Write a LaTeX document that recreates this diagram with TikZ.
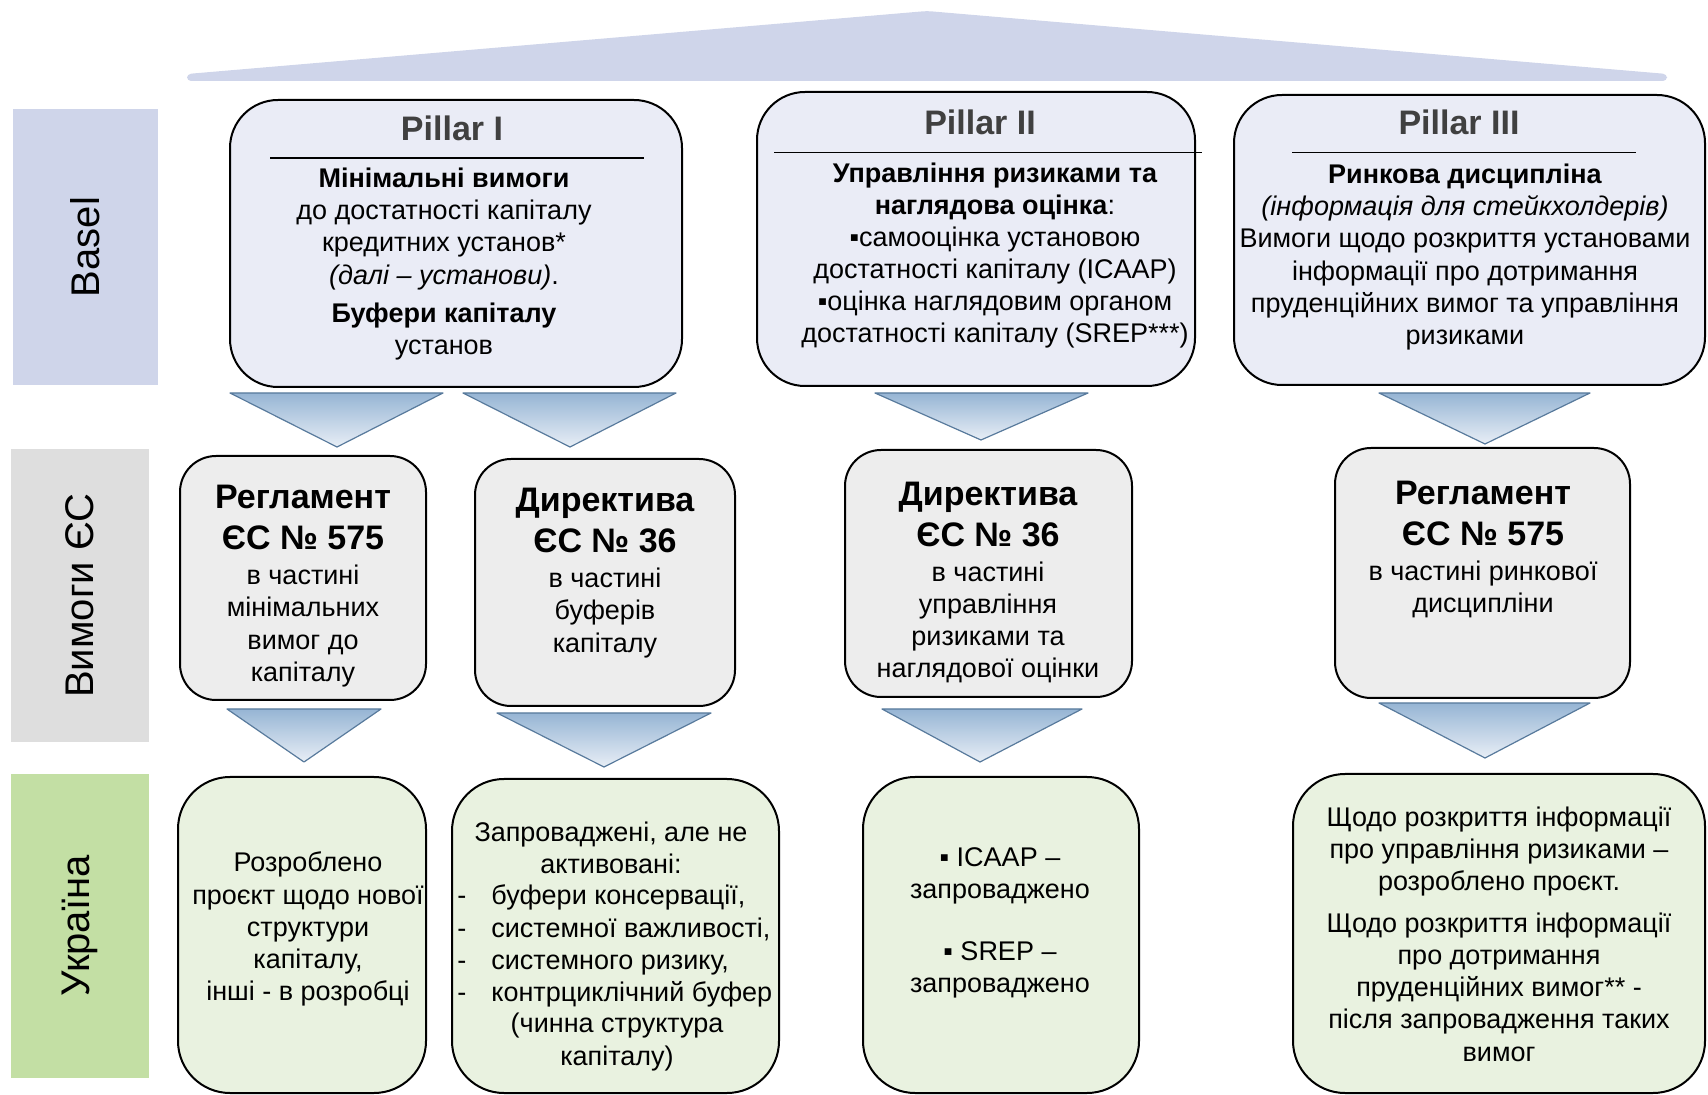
\documentclass[tikz,border=0pt]{standalone}
\usepackage{fontspec}
\setmainfont{Liberation Sans}
\usepackage{xcolor}

\definecolor{roofblue}{RGB}{207,213,234}
\definecolor{eugray}{RGB}{222,222,222}
\definecolor{uagreen}{RGB}{195,223,164}
\definecolor{pillarfill}{RGB}{234,236,246}
\definecolor{eufill}{RGB}{237,237,237}
\definecolor{uafill}{RGB}{233,242,224}
\definecolor{titlegray}{RGB}{64,64,64}
\definecolor{arrowline}{RGB}{88,122,156}
\definecolor{arrowtop}{RGB}{150,181,212}
\definecolor{arrowbot}{RGB}{232,238,246}

\begin{document}
\begin{tikzpicture}[x=0.5pt, y=-0.5pt,
  pillarbox/.style={draw=black, line width=1pt, fill=pillarfill, rounded corners=24pt, inner sep=0pt},
  eubox/.style={draw=black, line width=1pt, fill=eufill, rounded corners=18pt, inner sep=0pt},
  uabox/.style={draw=black, line width=1pt, fill=uafill, rounded corners=26pt, inner sep=0pt},
  sidebox/.style={rotate=90, inner sep=0pt, font=\fontsize{20}{24}\selectfont},
  pilltitle/.style={inner sep=0pt, text=titlegray, font=\fontsize{17}{20}\selectfont\bfseries},
  regtitle/.style={align=center, inner sep=0pt, font=\fontsize{17}{20.5}\selectfont\bfseries},
  bodytext/.style={align=center, inner sep=0pt, font=\fontsize{13.5}{16.05}\selectfont},
  pillrule/.style={line width=0.8pt},
  blockarrow/.style={draw=arrowline, line width=0.6pt, top color=arrowtop, bottom color=arrowbot, line join=round}
]
\useasboundingbox (0,0) rectangle (1708,1095);

% roof
\fill[roofblue, rounded corners=2pt] (187,74) -- (927,11) -- (1667,74) -- (1667,81) -- (187,81) -- cycle;

% row labels
\node[sidebox, fill=roofblue, minimum width=138pt, minimum height=72.5pt] (basel) at (85.5,247) {Basel};
\node[sidebox, fill=eugray, minimum width=146.5pt, minimum height=69pt] (eulab) at (80,595.5) {Вимоги ЄС};
\node[sidebox, fill=uagreen, minimum width=152pt, minimum height=69pt] (ualab) at (80,926) {Україна};

% Pillar I
\node[pillarbox, minimum width=226pt, minimum height=143.5pt] (p1) at (456,243.5) {};
\node[pilltitle] (p1t) at (452,128) {Pillar I};
\draw[pillrule] (270,158) -- (644,158);
\node[bodytext] (p1b) at (444,264) {\textbf{Мінімальні вимоги}\\до достатності капіталу\\кредитних установ*\\\textit{(далі – установи)}.\\[3pt]\textbf{Буфери капіталу}\\установ};

% Pillar II
\node[pillarbox, minimum width=219pt, minimum height=147pt] (p2) at (976,239) {};
\node[pilltitle] (p2t) at (980,122) {Pillar II};
\draw[pillrule] (774,152.5) -- (1202,152.5);
\node[bodytext] (p2b) at (995,255.5) {\textbf{Управління ризиками та}\\\textbf{наглядова оцінка}:\\▪самооцінка установою\\достатності капіталу (ICAAP)\\▪оцінка наглядовим органом\\достатності капіталу (SREP***)};

% Pillar III
\node[pillarbox, minimum width=235.5pt, minimum height=145pt] (p3) at (1469.5,240) {};
\node[pilltitle] (p3t) at (1459,122) {Pillar III};
\draw[pillrule] (1292,152.5) -- (1636,152.5);
\node[bodytext] (p3b) at (1465,257) {\textbf{Ринкова дисципліна}\\\textit{(інформація для стейкхолдерів)}\\Вимоги щодо розкриття установами\\інформації про дотримання\\пруденційних вимог та управління\\ризиками};

% arrows Basel -> EU
\draw[blockarrow] (230,393) -- (443,393) -- (337,447) -- cycle;
\draw[blockarrow] (463,393) -- (676,393) -- (570,447) -- cycle;
\draw[blockarrow] (875,393) -- (1088,393) -- (981,440) -- cycle;
\draw[blockarrow] (1379,393) -- (1590,393) -- (1485,444) -- cycle;

% EU requirements
\node[eubox, minimum width=123pt, minimum height=122pt] (e1) at (303,578) {};
\node[regtitle] (e1t) at (303,517.5) {Регламент\\ЄС № 575};
\node[bodytext] (e1b) at (303,626) {в частині\\мінімальних\\вимог до\\капіталу};

\node[eubox, minimum width=130pt, minimum height=123.5pt] (e2) at (605,582.5) {};
\node[regtitle] (e2t) at (605,520.5) {Директива\\ЄС № 36};
\node[bodytext] (e2b) at (605,613) {в частині\\буферів\\капіталу};

\node[eubox, minimum width=143.5pt, minimum height=123.5pt] (e3) at (988.5,573.5) {};
\node[regtitle] (e3t) at (988,514.5) {Директива\\ЄС № 36};
\node[bodytext] (e3b) at (988,622.5) {в частині\\управління\\ризиками та\\наглядової оцінки};

\node[eubox, minimum width=147.5pt, minimum height=125pt] (e4) at (1482.5,573) {};
\node[regtitle] (e4t) at (1483,513.5) {Регламент\\ЄС № 575};
\node[bodytext] (e4b) at (1483,589) {в частині ринкової\\дисципліни};

% arrows EU -> Ukraine
\draw[blockarrow] (227,709) -- (381,709) -- (304,762) -- cycle;
\draw[blockarrow] (497,713) -- (711,713) -- (604,767) -- cycle;
\draw[blockarrow] (882,709) -- (1082,709) -- (980,762) -- cycle;
\draw[blockarrow] (1379,703) -- (1590,703) -- (1485,758) -- cycle;

% Ukraine
\node[uabox, minimum width=124pt, minimum height=158pt] (u1) at (302,935) {};
\node[bodytext] (u1b) at (308,929) {Розроблено\\проєкт щодо нової\\структури\\капіталу,\\інші - в розробці};

\node[uabox, minimum width=163.5pt, minimum height=157pt] (u2) at (615.5,936) {};
\node[bodytext] (u2a) at (611,848) {Запроваджені, але не\\активовані:};
\node[bodytext, align=left, anchor=west] (u2b) at (457,946) {\makebox[17pt][l]{-}буфери консервації,\\\makebox[17pt][l]{-}системної важливості,\\\makebox[17pt][l]{-}системного ризику,\\\makebox[17pt][l]{-}контрциклічний буфер};
\node[bodytext] (u2c) at (617,1042) {(чинна структура\\капіталу)};

\node[uabox, minimum width=138pt, minimum height=158pt] (u3) at (1001,935) {};
\node[bodytext] (u3b) at (1000,923) {▪ ICAAP –\\запроваджено\\[15pt]▪ SREP –\\запроваджено};

\node[uabox, minimum width=206pt, minimum height=159.5pt] (u4) at (1499,933.5) {};
\node[bodytext] (u4b) at (1499,934) {Щодо розкриття інформації\\про управління ризиками –\\розроблено проєкт.\\[5pt]Щодо розкриття інформації\\про дотримання\\пруденційних вимог** -\\після запровадження таких\\вимог};

\end{tikzpicture}
\end{document}
